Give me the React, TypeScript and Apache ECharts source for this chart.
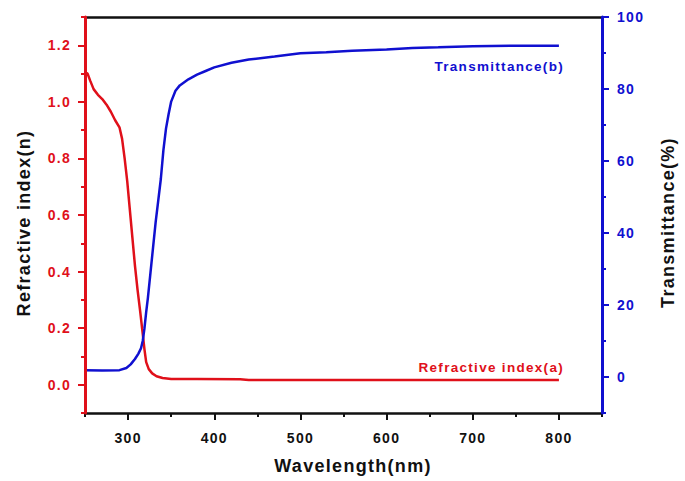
import React, { useEffect, useRef } from "react";
import * as echarts from "echarts";

// Refractive index curve (a)
const wavelengthN = [250, 253, 256, 260, 265, 270, 275, 280, 285, 290, 293, 296, 299, 302, 305, 308, 311, 314, 317, 319, 321, 324, 328, 333, 340, 350, 380, 430, 440, 500, 600, 700, 800];
const refractiveIndex = [1.105, 1.1, 1.075, 1.045, 1.025, 1.01, 0.99, 0.965, 0.935, 0.91, 0.87, 0.8, 0.72, 0.62, 0.52, 0.42, 0.335, 0.26, 0.18, 0.125, 0.08, 0.055, 0.04, 0.03, 0.024, 0.02, 0.02, 0.019, 0.017, 0.017, 0.017, 0.017, 0.017];

// Transmittance curve (b)
const wavelengthT = [250, 270, 290, 298, 303, 308, 312, 315, 317, 319, 321, 323, 326, 329, 332, 335, 338, 341, 344, 347, 350, 355, 360, 370, 380, 390, 400, 420, 440, 470, 500, 530, 560, 600, 630, 660, 700, 750, 800];
const transmittance = [1.9, 1.8, 1.9, 2.5, 3.5, 5, 6.5, 8, 10, 13.5, 18, 22, 29, 36, 43, 49, 55, 63, 69, 73, 76.5, 79.5, 81, 82.7, 84, 85, 86, 87.3, 88.2, 89, 89.9, 90.2, 90.6, 91, 91.4, 91.6, 91.9, 92, 92];

// Axis ticks
const xMajorTicks = [300, 400, 500, 600, 700, 800];
const xMinorTicks = [250, 350, 450, 550, 650, 750, 850];
const nMajorTicks = [0, 0.2, 0.4, 0.6, 0.8, 1.0, 1.2];
const nMinorTicks = [-0.1, 0.1, 0.3, 0.5, 0.7, 0.9, 1.1, 1.3];
const tMajorTicks = [0, 20, 40, 60, 80, 100];
const tMinorTicks = [-10, 10, 30, 50, 70, 90];

const RED = "#e0101a";
const BLUE = "#1010d0";
const FONT = "'Liberation Sans', Arial, sans-serif";

export default function App() {
  const ref = useRef<HTMLDivElement>(null);
  useEffect(() => {
    if (!ref.current) return;
    const chart = echarts.init(ref.current, undefined, { renderer: "svg" });
    const nData = wavelengthN.map((w, i) => [w, refractiveIndex[i]]);
    const tData = wavelengthT.map((w, i) => [w, transmittance[i]]);
    const labelFont = { fontFamily: FONT, fontWeight: "bold" as const, fontSize: 14 };
    const nameFont = { fontFamily: FONT, fontWeight: "bold" as const, fontSize: 18, color: "#111" };
    chart.setOption({
      animation: false,
      backgroundColor: "#ffffff",
      grid: { left: 85, right: 80, top: 17, bottom: 68, containLabel: false },
      xAxis: [
        {
          type: "value", min: 250, max: 850, position: "bottom",
          axisLine: { show: true, onZero: false, lineStyle: { color: "#111", width: 2.5 } },
          axisTick: { show: true, inside: false, length: 7, customValues: xMajorTicks, lineStyle: { color: "#111", width: 2 } },
          axisLabel: { show: true, customValues: xMajorTicks, margin: 18, color: "#111", ...labelFont },
          splitLine: { show: false },
          name: "Wavelength(nm)", nameLocation: "middle", nameGap: 44,
          nameTextStyle: { ...nameFont, padding: [0, 0, 0, 19] },
        },
        {
          type: "value", min: 250, max: 850, position: "bottom",
          axisLine: { show: false, onZero: false },
          axisTick: { show: true, inside: false, length: 4, customValues: xMinorTicks, lineStyle: { color: "#111", width: 2 } },
          axisLabel: { show: false },
          splitLine: { show: false },
        },
        {
          type: "value", min: 250, max: 850, position: "top",
          axisLine: { show: true, onZero: false, lineStyle: { color: "#111", width: 2.5 } },
          axisTick: { show: false },
          axisLabel: { show: false },
          splitLine: { show: false },
        },
      ],
      yAxis: [
        {
          type: "value", min: -0.1, max: 1.3, position: "left",
          axisLine: { show: true, onZero: false, lineStyle: { color: RED, width: 3 } },
          axisTick: { show: true, inside: false, length: 7, customValues: nMajorTicks, lineStyle: { color: RED, width: 2 } },
          axisLabel: { show: true, customValues: nMajorTicks, margin: 14, color: RED, formatter: (v: number) => v.toFixed(1), ...labelFont },
          splitLine: { show: false },
          name: "Refractive index(n)", nameLocation: "middle", nameRotate: 90, nameGap: 52,
          nameTextStyle: { ...nameFont, padding: [0, 16, 0, 0] },
          z: 5,
        },
        {
          type: "value", min: -0.1, max: 1.3, position: "left",
          axisLine: { show: false, onZero: false },
          axisTick: { show: true, inside: false, length: 4, customValues: nMinorTicks, lineStyle: { color: RED, width: 2 } },
          axisLabel: { show: false },
          splitLine: { show: false },
        },
        {
          type: "value", min: -10, max: 100, position: "right",
          axisLine: { show: true, onZero: false, lineStyle: { color: BLUE, width: 3 } },
          axisTick: { show: true, inside: false, length: 7, customValues: tMajorTicks, lineStyle: { color: BLUE, width: 2 } },
          axisLabel: { show: true, customValues: tMajorTicks, margin: 15, color: BLUE, ...labelFont },
          splitLine: { show: false },
          name: "Transmittance(%)", nameLocation: "middle", nameRotate: 90, nameGap: 57,
          nameTextStyle: { ...nameFont, padding: [0, 15, 0, 0] },
          z: 5,
        },
        {
          type: "value", min: -10, max: 100, position: "right",
          axisLine: { show: false, onZero: false },
          axisTick: { show: true, inside: false, length: 4, customValues: tMinorTicks, lineStyle: { color: BLUE, width: 2 } },
          axisLabel: { show: false },
          splitLine: { show: false },
        },
      ],
      series: [
        {
          name: "Refractive index(a)", type: "line", xAxisIndex: 0, yAxisIndex: 0,
          data: nData, showSymbol: false, symbol: "none",
          lineStyle: { color: RED, width: 2.5 }, z: 3,
        },
        {
          name: "Transmittance(b)", type: "line", xAxisIndex: 0, yAxisIndex: 2,
          data: tData, showSymbol: false, symbol: "none",
          lineStyle: { color: BLUE, width: 2.5 }, z: 4,
        },
      ],
      graphic: [
        {
          type: "text", x: 564, y: 66, z: 10,
          style: { text: "Transmittance(b)", fill: BLUE, font: `bold 13.5px ${FONT}`, textAlign: "right", textVerticalAlign: "middle", align: "right", verticalAlign: "middle" },
        },
        {
          type: "text", x: 564, y: 367, z: 10,
          style: { text: "Refractive index(a)", fill: RED, font: `bold 13.5px ${FONT}`, textAlign: "right", textVerticalAlign: "middle", align: "right", verticalAlign: "middle" },
        },
      ],
    });
    return () => chart.dispose();
  }, []);
  return (
    <>
      <style>{`#chart-box text { letter-spacing: 1.3px; }`}</style>
      <div id="chart-box" ref={ref} style={{ position: "absolute", left: 0, top: 0, width: 685, height: 481, background: "#fff" }} />
    </>
  );
}
